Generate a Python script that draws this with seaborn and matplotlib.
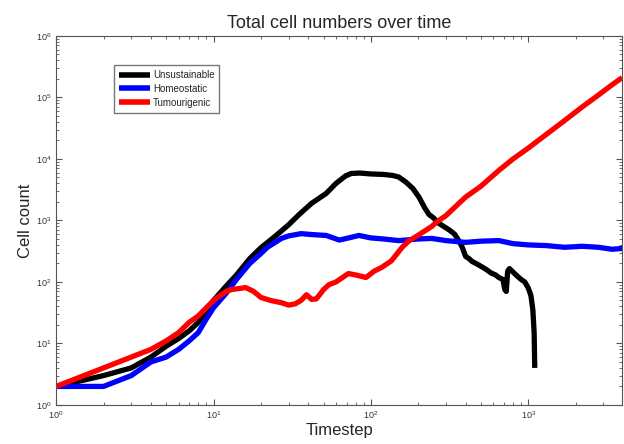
import numpy as np
import pandas as pd
import matplotlib
matplotlib.use("Agg")
import matplotlib.pyplot as plt
import seaborn as sns

# values (log-log axes)
unsus_t = [1, 2, 3, 4, 5, 6, 7, 8, 10, 12, 14, 17, 20, 25, 30, 35, 42, 52, 60, 69, 75,
           85, 100, 120, 137, 150, 167, 185, 202, 220, 234, 250, 270, 290, 315, 340, 360,
           380, 400, 420, 440, 465, 500, 540, 580, 620, 650, 690, 710, 725, 740, 760,
           800, 850, 900, 950, 1000, 1040, 1070, 1090, 1100]
unsus_n = [2, 3, 4, 6, 9, 12, 16, 22, 50, 85, 130, 240, 360, 570, 850, 1250, 1900, 2750,
           4000, 5300, 5800, 5900, 5700, 5600, 5400, 5100, 4200, 3300, 2400, 1600, 1250,
           1100, 900, 800, 700, 600, 480, 370, 260, 240, 215, 200, 180, 160, 140, 130,
           118, 110, 75, 70, 150, 165, 145, 125, 110, 100, 80, 60, 35, 15, 4]

homeo_t = [1, 2, 3, 4, 5, 6, 7, 8, 9, 10, 12, 14, 17, 20, 22, 25, 27, 30, 36, 42, 52,
           63, 70, 84, 100, 120, 150, 200, 244, 300, 400, 500, 650, 800, 1000, 1300,
           1700, 2200, 2800, 3400, 3950]
homeo_n = [2, 2, 3, 5, 6, 8, 11, 15, 25, 38, 65, 110, 200, 290, 366, 450, 510, 560, 610,
           590, 570, 480, 510, 570, 520, 500, 470, 500, 510, 470, 440, 460, 470, 420,
           400, 390, 366, 380, 366, 340, 350]

tumour_t = [1, 2, 3, 4, 5, 6, 7, 8, 10, 12, 13, 16, 18, 20, 23, 27, 30, 33, 36, 39, 42,
            45, 50, 54, 60, 72, 80, 93, 105, 117, 135, 158, 175, 190, 215, 244, 260, 300,
            400, 500, 650, 800, 1000, 1300, 1700, 2200, 2800, 3400, 3950]
tumour_n = [2, 4, 6, 8, 11, 15, 22, 28, 50, 70, 75, 81, 70, 56, 50, 46, 42, 44, 50, 62,
            52, 53, 75, 90, 100, 137, 130, 118, 150, 172, 220, 366, 470, 530, 650, 800,
            930, 1200, 2400, 3600, 6500, 10000, 15000, 25000, 42000, 70000, 110000,
            160000, 210000]

labels = ["Unsustainable", "Homeostatic", "Tumourigenic"]
colors = ["black", "blue", "red"]

sns.set_style("ticks")
plt.rcParams["font.family"] = ["Liberation Sans", "DejaVu Sans"]
plt.rcParams["xtick.direction"] = "in"
plt.rcParams["ytick.direction"] = "in"

fig = plt.figure(figsize=(6.24, 4.44), dpi=100)
ax = fig.add_axes([0.09, 0.088, 0.907, 0.831])

series = [(unsus_t, unsus_n), (homeo_t, homeo_n), (tumour_t, tumour_n)]
for (t, n), lab, col in zip(series, labels, colors):
    df = pd.DataFrame({"Timestep": t, "Cell count": n})
    sns.lineplot(data=df, x="Timestep", y="Cell count", ax=ax, color=col,
                 linewidth=3.8, label=lab, estimator=None, sort=False,
                 solid_capstyle="butt")

ax.set_xscale("log")
ax.set_yscale("log")
ax.set_xlim(1, 3950)
ax.set_ylim(1, 1e6)
ax.tick_params(which="both", top=True, right=True, labelsize=6.5, color="#555555",
               labelcolor="#333333")
ax.tick_params(which="major", length=4)
ax.tick_params(which="minor", length=2)
for s in ax.spines.values():
    s.set_color("#555555")

ax.set_title("Total cell numbers over time", fontsize=13, pad=6)
ax.set_xlabel("Timestep", fontsize=12, labelpad=1)
ax.set_ylabel("Cell count", fontsize=12, labelpad=2)

leg = ax.legend(loc="upper left", bbox_to_anchor=(0.102, 0.921), borderaxespad=0,
                fontsize=7, handlelength=3.2, handletextpad=0.3, fancybox=False,
                framealpha=1, edgecolor="#777777", borderpad=0.5, labelspacing=0.4)
for line in leg.get_lines():
    line.set_linewidth(4)
    line.set_solid_capstyle("butt")

fig.savefig("out.png", dpi=100)
